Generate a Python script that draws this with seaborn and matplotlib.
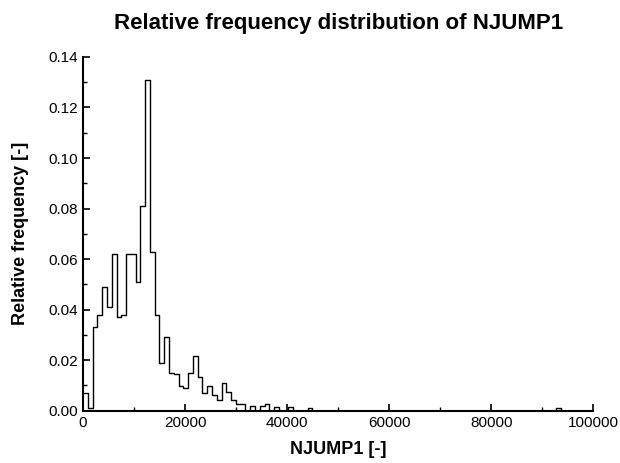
import numpy as np
import pandas as pd
import matplotlib
matplotlib.use("Agg")
import matplotlib.pyplot as plt
import seaborn as sns
from matplotlib.ticker import MultipleLocator, FormatStrFormatter

sns.set_style("ticks")
plt.rcParams["font.family"] = ["Liberation Sans", "DejaVu Sans"]
plt.rcParams["text.color"] = "black"
plt.rcParams["axes.labelcolor"] = "black"

# histogram: 100 bins of width 936 between 0 and 93600, plus an empty closing bin
bin_width = 936
rel_freq = [
    0.007, 0.001, 0.033, 0.038, 0.049, 0.041, 0.062, 0.037, 0.038, 0.062,
    0.062, 0.051, 0.081, 0.131, 0.063, 0.038, 0.019, 0.029, 0.015, 0.0145,
    0.0098, 0.009, 0.0148, 0.0217, 0.0134, 0.0068, 0.0097, 0.0062, 0.0042, 0.011,
    0.0075, 0.0042, 0.0028, 0.0028, 0.0, 0.0018, 0.0, 0.002, 0.0028, 0.0,
    0.0015, 0.0, 0.0, 0.0015, 0.0, 0.0, 0.0, 0.0012, 0.0, 0.0,
    0.0, 0.0, 0.0, 0.0, 0.0, 0.0, 0.0, 0.0, 0.0, 0.0,
    0.0, 0.0, 0.0, 0.0, 0.0, 0.0, 0.0, 0.0, 0.0, 0.0,
    0.0, 0.0, 0.0, 0.0, 0.0, 0.0, 0.0, 0.0, 0.0, 0.0,
    0.0, 0.0, 0.0, 0.0, 0.0, 0.0, 0.0, 0.0, 0.0, 0.0,
    0.0, 0.0, 0.0, 0.0, 0.0, 0.0, 0.0, 0.0, 0.0, 0.0012,
    0.0,
]
edges = [i * bin_width for i in range(len(rel_freq) + 1)]
df = pd.DataFrame({"NJUMP1": np.array(edges[:-1]) + bin_width / 2, "freq": rel_freq})

fig = plt.figure(figsize=(6.2, 4.63), dpi=100)
ax = fig.add_axes([0.134, 0.113, 0.823, 0.764])

sns.histplot(
    data=df,
    x="NJUMP1",
    weights="freq",
    bins=edges,
    element="step",
    fill=False,
    color="black",
    linewidth=1.0,
    ax=ax,
)

ax.set_xlim(0, 100000)
ax.set_ylim(0, 0.14)
ax.xaxis.set_major_locator(MultipleLocator(20000))
ax.xaxis.set_minor_locator(MultipleLocator(10000))
ax.yaxis.set_major_locator(MultipleLocator(0.02))
ax.yaxis.set_minor_locator(MultipleLocator(0.01))
ax.yaxis.set_major_formatter(FormatStrFormatter("%.2f"))
ax.xaxis.set_major_formatter(FormatStrFormatter("%d"))

sns.despine(ax=ax)
for s in ["left", "bottom"]:
    ax.spines[s].set_linewidth(1.5)
    ax.spines[s].set_color("black")
ax.tick_params(which="major", direction="in", length=5, width=1.2, labelsize=11, colors="black")
ax.tick_params(which="minor", direction="in", length=3, width=1.0, colors="black")

ax.set_title("Relative frequency distribution of NJUMP1", fontsize=16, fontweight="bold", pad=20)
ax.set_xlabel("NJUMP1 [-]", fontsize=13, fontweight="bold", labelpad=8)
ax.set_ylabel("Relative frequency [-]", fontsize=13, fontweight="bold", labelpad=14)

fig.savefig("out.png", dpi=100)
